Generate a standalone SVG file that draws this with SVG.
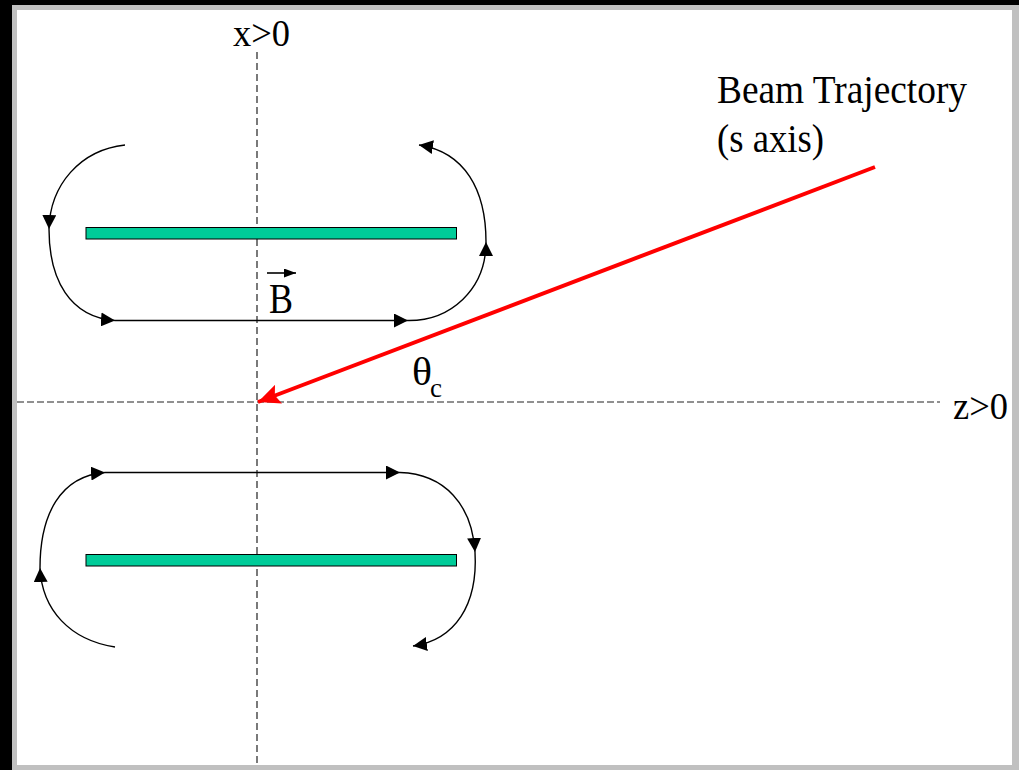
<svg xmlns="http://www.w3.org/2000/svg" width="1019" height="770" viewBox="0 0 1019 770">
<style>
.t{font-family:"Liberation Serif","Times New Roman",serif;fill:#000}
.axis{stroke:#222;stroke-width:1.2;fill:none}
.bar{fill:#00CC99;stroke:#000;stroke-width:1}
.flux{stroke:#000;stroke-width:1.4;fill:none}
</style>
<defs>
<marker id="ah" markerUnits="userSpaceOnUse" viewBox="0 0 14 14" refX="14" refY="7" markerWidth="14" markerHeight="14" orient="auto">
<path d="M0,0 L14,7 L0,14 Z" fill="#000"/>
</marker>
<marker id="ahs" markerUnits="userSpaceOnUse" viewBox="0 0 12 9" refX="12" refY="4.5" markerWidth="12" markerHeight="9" orient="auto">
<path d="M0,0 L12,4.5 L0,9 Z" fill="#000"/>
</marker>
<marker id="ahr" markerUnits="userSpaceOnUse" viewBox="0 0 22 20" refX="22" refY="10" markerWidth="22" markerHeight="20" orient="auto">
<path d="M0,0 L22,10 L0,20 L4,10 Z" fill="#FF0000"/>
</marker>
</defs>
<rect x="0" y="0" width="1019" height="770" fill="#000"/>
<rect x="12" y="5" width="1007" height="765" fill="#C0C0C0"/>
<rect x="17" y="10" width="995" height="755" fill="#FFFFFF"/>

<g id="axes">
<line class="axis" x1="257" y1="52" x2="257" y2="765" stroke-dasharray="7,4"/>
<line class="axis" x1="17" y1="402" x2="940" y2="402" stroke-dasharray="7,3"/>
</g>

<g id="upper-plate"><rect class="bar" x="86" y="227.5" width="370.5" height="11.5"/></g>
<g id="lower-plate"><rect class="bar" x="86" y="554.5" width="370.5" height="11.5"/></g>

<g id="connectors">
<path class="flux" d="M125,145 C80,150 50,185 49,229" marker-end="url(#ah)"/>
<path class="flux" d="M49,229 C49,280 70,317 115,320.5" marker-end="url(#ah)"/>
<line class="flux" x1="115" y1="320.5" x2="408" y2="320.5" marker-end="url(#ah)"/>
<path class="flux" d="M408,320.5 C450,321 486,290 486,242" marker-end="url(#ah)"/>
<path class="flux" d="M486,242 C486,190 465,152 419,145" marker-end="url(#ah)"/>

<path class="flux" d="M115,647 C70,640 42,610 40,568" marker-end="url(#ah)"/>
<path class="flux" d="M40,568 C40,515 60,476 105,472.5" marker-end="url(#ah)"/>
<line class="flux" x1="105" y1="472.5" x2="400" y2="472.5" marker-end="url(#ah)"/>
<path class="flux" d="M400,472.5 C445,474 472,505 475,552" marker-end="url(#ah)"/>
<path class="flux" d="M475,552 C478,605 455,640 413,646" marker-end="url(#ah)"/>

<line x1="875" y1="167" x2="258" y2="402" stroke="#FF0000" stroke-width="4" marker-end="url(#ahr)"/>
<line x1="267" y1="273" x2="296" y2="273" stroke="#000" stroke-width="1.6" marker-end="url(#ahs)"/>
</g>

<g id="labels">
<text class="t" x="233" y="46" font-size="37" textLength="57" lengthAdjust="spacingAndGlyphs">x&gt;0</text>
<text class="t" x="953" y="419" font-size="37" textLength="55" lengthAdjust="spacingAndGlyphs">z&gt;0</text>
<text class="t" x="717" y="103" font-size="41" textLength="250" lengthAdjust="spacingAndGlyphs">Beam Trajectory</text>
<text class="t" x="717" y="152" font-size="41" textLength="107" lengthAdjust="spacingAndGlyphs">(s axis)</text>
<text class="t" x="269" y="313" font-size="42" textLength="24" lengthAdjust="spacingAndGlyphs">B</text>
<text class="t" x="412" y="385" font-size="39" textLength="20" lengthAdjust="spacingAndGlyphs">θ</text>
<text class="t" x="430" y="397" font-size="27">c</text>
</g>
</svg>
